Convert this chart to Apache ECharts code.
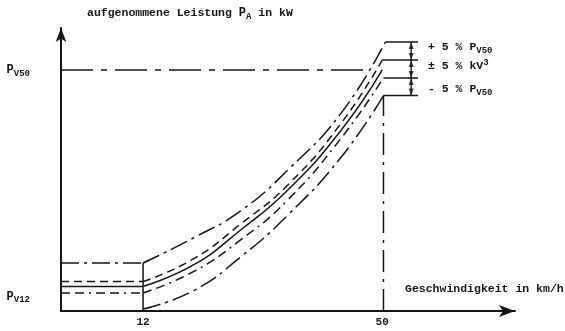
<!DOCTYPE html>
<html><head><meta charset="utf-8">
<script src="https://cdn.jsdelivr.net/npm/echarts@6/dist/echarts.min.js"></script>
<style>html,body{margin:0;padding:0;background:#fff}#c{width:565px;height:331px}</style>
</head><body><div id="c"></div>
<script>
// ---- data (speed in km/h, power in relative units, P_V50 = 100) ----
const curveSpeeds = [20, 27.5, 35, 43.5];          // interior speed samples
const leftSpeed = 12;                                // start of curves
const leftLevels  = [19.9, 12.2, 10.2, 7.5, 0.8];    // level at 12 km/h: +5%PV50, +5%kV3, nominal, -5%kV3, -5%PV50
const topPlus     = [30.3, 41.5, 58.5, 82.2];
const kvPlus      = [21.6, 36.1, 52.3, 78.0];
const nominal     = [19.1, 33.6, 50.2, 75.1];
const kvMinus     = [16.3, 29.5, 46.1, 71.8];
const bottomMinus = [8.4, 22.4, 39.8, 63.9];
const kneeSpeeds  = [50.5, 50.0, 50.0, 50.2, 50.2];
const rightLevels = [111.6, 104.1, 100, 96.7, 89.4];
const hasLeftFlat = [true, true, true, true, false];
const hasRightFlat= [true, true, false, true, true];
const rightEnd = 55.7;          // end of extension lines
const dimSpeed = 54.6;          // dimension line
const pv50 = 100;
const pv50LineEnd = 48.1;
const v50Line = 50.2;
const xTickValues = [12, 50];
const xTickLabels = ['12', '50'];
const yTickValues = [6, 100];
const yTickLabels = ['{p|P}{s|V12}', '{p|P}{s|V50}'];
const xMin = -1.04, xMax = 71.1, yMin = 0, yMax = 117.4;

const FONT = 'Liberation Mono';
const INK = '#151515';
const curves = [topPlus, kvPlus, nominal, kvMinus, bottomMinus];
const styles = [
  [18,5,3,5], [8,5], 'solid', [9,5,9,5,2,5], [18,5,3,5]
];

const series = [];
function line(data, type, w) {
  series.push({type:'line', data, symbol:'none', silent:true, animation:false,
    lineStyle:{color:INK, width:w||1.5, type, cap:'butt'}});
}
curves.forEach((c, i) => {
  const pts = [[leftSpeed, leftLevels[i]]];
  curveSpeeds.forEach((s, j) => pts.push([s, c[j]]));
  pts.push([kneeSpeeds[i], rightLevels[i]]);
  series.push({type:'line', data:pts, symbol:'none', smooth:0.5,
    silent:true, animation:false, lineStyle:{color:INK, width:1.5, type:styles[i], cap:'butt'}});
  if (hasLeftFlat[i]) line([[xMin, leftLevels[i]], [leftSpeed, leftLevels[i]]], styles[i]);
  if (hasRightFlat[i]) line([[kneeSpeeds[i], rightLevels[i]], [rightEnd, rightLevels[i]]], 'solid');
});
// P_V50 reference line
line([[xMin, pv50], [pv50LineEnd, pv50]], [32,8,6,8]);
// vertical at 12 km/h and 50 km/h
line([[leftSpeed, yMin], [leftSpeed, leftLevels[0]]], 'solid');
line([[v50Line, yMin], [v50Line, rightLevels[4]]], [22,7,3,7]);
// dimension line
line([[dimSpeed, rightLevels[0]], [dimSpeed, rightLevels[4]]], 'solid', 1.3);
const dimLevels = [rightLevels[0], rightLevels[1], rightLevels[3], rightLevels[4]];
const upArrows = dimLevels.slice(0, 3).map(l => [dimSpeed, l]);
const downArrows = dimLevels.slice(1).map(l => [dimSpeed, l]);
series.push({type:'scatter', data:upArrows, symbol:'triangle', symbolSize:[5,7], symbolOffset:[0,3.5],
  itemStyle:{color:INK}, silent:true, animation:false});
series.push({type:'scatter', data:downArrows, symbol:'triangle', symbolRotate:180, symbolSize:[5,7], symbolOffset:[0,-3.5],
  itemStyle:{color:INK}, silent:true, animation:false});

const rt = {
  t:{fontFamily:FONT, fontSize:11.5, fontWeight:'bold', color:INK, lineHeight:16, verticalAlign:'middle'},
  p:{fontFamily:FONT, fontSize:12, fontWeight:'bold', color:INK, lineHeight:16, verticalAlign:'middle'},
  s:{fontFamily:FONT, fontSize:9, fontWeight:'bold', color:INK, lineHeight:9, verticalAlign:'bottom'},
  u:{fontFamily:FONT, fontSize:9, fontWeight:'bold', color:INK, lineHeight:9, verticalAlign:'top'}
};
function txt(x, y, text) {
  return {type:'text', x, y, silent:true,
    style:{text, rich:rt, font:'bold 11.5px ' + FONT, fill:INK, textAlign:'left', textVerticalAlign:'middle'}};
}

const chart = echarts.init(document.getElementById('c'), null, {renderer:'canvas'});
chart.setOption({
  animation:false,
  backgroundColor:'#fff',
  grid:{left:61, right:50, top:28, bottom:20, containLabel:false, outerBoundsMode:'none'},
  xAxis:{type:'value', min:xMin, max:xMax,
    axisLine:{show:true, onZero:false, symbol:['none','arrow'], symbolSize:[9,16], lineStyle:{color:INK, width:2}},
    axisTick:{show:false}, splitLine:{show:false},
    axisLabel:{customValues:xTickValues, margin:6, color:INK, fontFamily:FONT, fontWeight:'bold', fontSize:11,
      formatter:v => xTickLabels[xTickValues.indexOf(v)] ?? ''}},
  yAxis:{type:'value', min:yMin, max:yMax,
    axisLine:{show:true, onZero:false, symbol:['none','arrow'], symbolSize:[8,14], lineStyle:{color:INK, width:2}},
    axisTick:{show:false}, splitLine:{show:false},
    axisLabel:{customValues:yTickValues, margin:31, color:INK, rich:rt,
      formatter:v => yTickLabels[yTickValues.indexOf(v)] ?? ''}},
  graphic:[
    txt(87, 13, '{t|aufgenommene Leistung }{p|P}{s|A}{t| in kW}'),
    txt(405, 289, '{t|Geschwindigkeit in km/h}'),
    txt(428, 47, '{t|+ 5 % P}{s|V50}'),
    txt(428, 66, '{t|± 5 % kV}{u|3}'),
    txt(428, 89, '{t|- 5 % P}{s|V50}')
  ],
  series
});
</script></body></html>
